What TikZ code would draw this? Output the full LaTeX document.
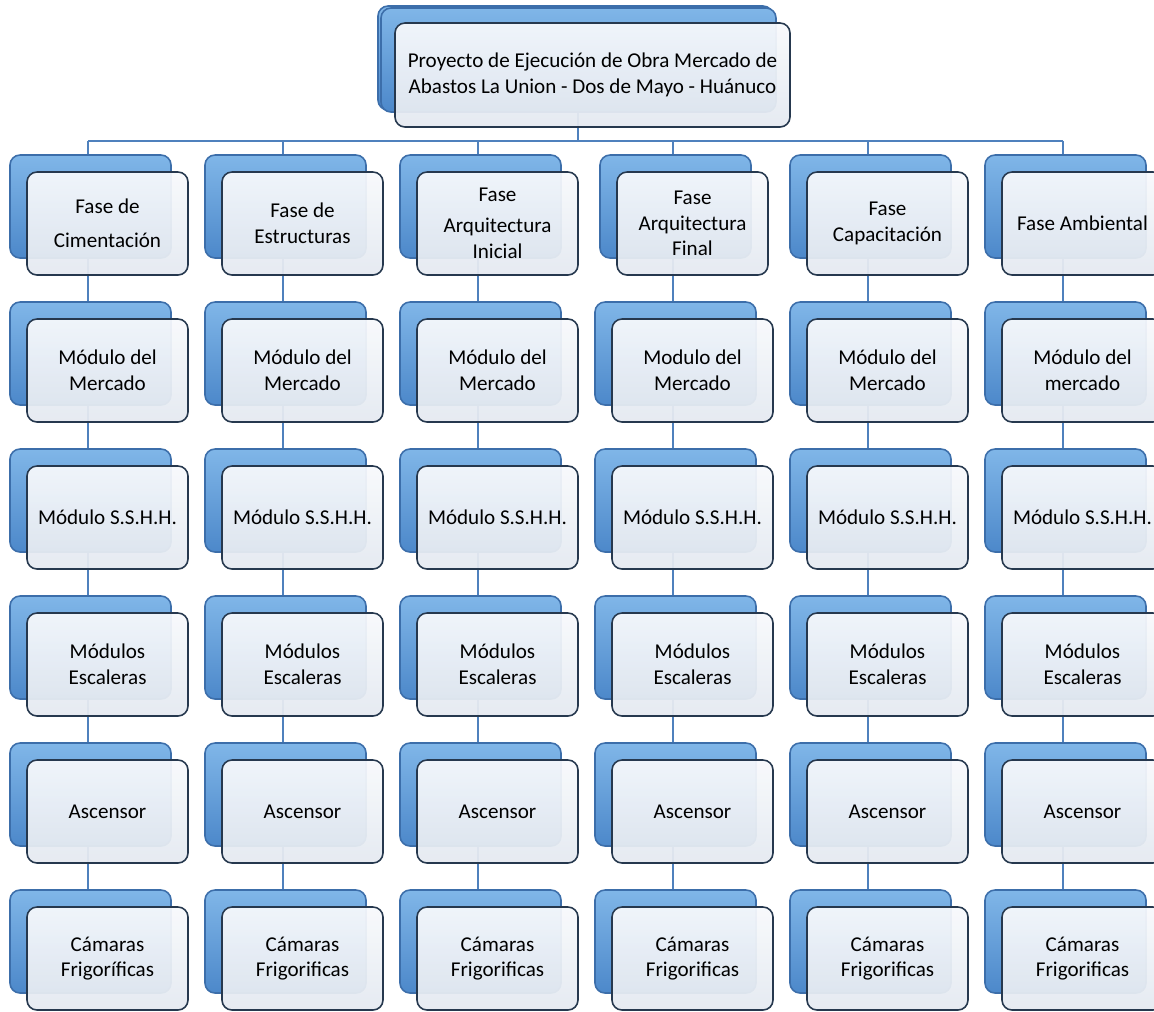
\documentclass[tikz,border=0pt]{standalone}
\usepackage{fontspec}
\setmainfont{Carlito}
\usetikzlibrary{shadows,backgrounds}
\definecolor{frente}{RGB}{38,56,78}
\definecolor{rellenoclaro}{RGB}{247,249,252}
\definecolor{rellenoosc}{RGB}{228,233,240}
\definecolor{fondoclaro}{RGB}{128,182,232}
\definecolor{fondooscuro}{RGB}{76,136,202}
\definecolor{fondoborde}{RGB}{60,110,170}
\definecolor{linea}{RGB}{79,129,189}
\tikzset{
	caja/.style={rectangle, rounded corners=0.2cm, minimum width=3.22cm, minimum height=2.06cm,
		inner sep=1pt, align=center, draw=frente, line width=0.9pt,
		top color=rellenoclaro, bottom color=rellenoosc,
		fill opacity=0.94, text opacity=1, font=\fontsize{12}{14.6}\selectfont,
		general shadow={shadow xshift=-0.34cm, shadow yshift=0.34cm, fill opacity=1,
			draw=fondoborde, top color=fondoclaro, bottom color=fondooscuro}},
	conector/.style={draw=linea, line width=1.4pt}
}
\begin{document}
\begin{tikzpicture}[scale=0.2]
		\clip (0,0) rectangle (115.4,-101.1);
		% proyecto
		\node [caja, minimum width=7.9cm, minimum height=2.08cm,
			general shadow={shadow xshift=-0.28cm, shadow yshift=0.3cm, fill opacity=1,
			draw=fondoborde, top color=fondoclaro, bottom color=fondooscuro}]
			(proy) at (59.25,-7.5) {Proyecto de Ejecución de Obra Mercado de\\Abastos La Union - Dos de Mayo - Huánuco};
		% fases
		\node [caja] (f1) at (10.75,-22.35) {Fase de\\[5pt]Cimentación};
		\node [caja] (f2) at (30.25,-22.35) {Fase de\\Estructuras};
		\node [caja] (f3) at (49.75,-22.35) {Fase\\[3pt]Arquitectura\\Inicial};
		\node [caja, minimum width=3.02cm] (f4) at (69.25,-22.35) {Fase\\Arquitectura\\Final};
		\node [caja] (f5) at (88.75,-22.35) {Fase\\Capacitación};
		\node [caja] (f6) at (108.25,-22.35) {Fase Ambiental};
		% modulo del mercado
		\node [caja] (m1) at (10.75,-37.05) {Módulo del\\Mercado};
		\node [caja] (m2) at (30.25,-37.05) {Módulo del\\Mercado};
		\node [caja] (m3) at (49.75,-37.05) {Módulo del\\Mercado};
		\node [caja] (m4) at (69.25,-37.05) {Modulo del\\Mercado};
		\node [caja] (m5) at (88.75,-37.05) {Módulo del\\Mercado};
		\node [caja] (m6) at (108.25,-37.05) {Módulo del\\mercado};
		% sshh
		\node [caja] (s1) at (10.75,-51.75) {Módulo S.S.H.H.};
		\node [caja] (s2) at (30.25,-51.75) {Módulo S.S.H.H.};
		\node [caja] (s3) at (49.75,-51.75) {Módulo S.S.H.H.};
		\node [caja] (s4) at (69.25,-51.75) {Módulo S.S.H.H.};
		\node [caja] (s5) at (88.75,-51.75) {Módulo S.S.H.H.};
		\node [caja] (s6) at (108.25,-51.75) {Módulo S.S.H.H.};
		% escaleras
		\node [caja] (e1) at (10.75,-66.45) {Módulos\\Escaleras};
		\node [caja] (e2) at (30.25,-66.45) {Módulos\\Escaleras};
		\node [caja] (e3) at (49.75,-66.45) {Módulos\\Escaleras};
		\node [caja] (e4) at (69.25,-66.45) {Módulos\\Escaleras};
		\node [caja] (e5) at (88.75,-66.45) {Módulos\\Escaleras};
		\node [caja] (e6) at (108.25,-66.45) {Módulos\\Escaleras};
		% ascensor
		\node [caja] (a1) at (10.75,-81.15) {Ascensor};
		\node [caja] (a2) at (30.25,-81.15) {Ascensor};
		\node [caja] (a3) at (49.75,-81.15) {Ascensor};
		\node [caja] (a4) at (69.25,-81.15) {Ascensor};
		\node [caja] (a5) at (88.75,-81.15) {Ascensor};
		\node [caja] (a6) at (108.25,-81.15) {Ascensor};
		% camaras
		\node [caja] (c1) at (10.75,-95.85) {Cámaras\\Frigoríficas};
		\node [caja] (c2) at (30.25,-95.85) {Cámaras\\Frigorificas};
		\node [caja] (c3) at (49.75,-95.85) {Cámaras\\Frigorificas};
		\node [caja] (c4) at (69.25,-95.85) {Cámaras\\Frigorificas};
		\node [caja] (c5) at (88.75,-95.85) {Cámaras\\Frigorificas};
		\node [caja] (c6) at (108.25,-95.85) {Cámaras\\Frigorificas};
		% lineas (shifts are scaled by 0.2)
		\begin{scope}[on background layer]
		\draw [conector] ([xshift=-1.45cm]proy.center) |- ([xshift=-1.95cm,yshift=3cm]f1.north);
		\draw [conector] ([xshift=-1.45cm]proy.center) |- ([xshift=-1.95cm,yshift=3cm]f6.north);
		\draw [conector] ([xshift=-1.95cm,yshift=3cm]f1.north) -- ([xshift=-1.95cm]c1.center);
		\draw [conector] ([xshift=-1.95cm,yshift=3cm]f2.north) -- ([xshift=-1.95cm]c2.center);
		\draw [conector] ([xshift=-1.95cm,yshift=3cm]f3.north) -- ([xshift=-1.95cm]c3.center);
		\draw [conector] ([xshift=-1.95cm,yshift=3cm]f4.north) -- ([xshift=-1.95cm]c4.center);
		\draw [conector] ([xshift=-1.95cm,yshift=3cm]f5.north) -- ([xshift=-1.95cm]c5.center);
		\draw [conector] ([xshift=-1.95cm,yshift=3cm]f6.north) -- ([xshift=-1.95cm]c6.center);
		\end{scope}
	\end{tikzpicture}
\end{document}
